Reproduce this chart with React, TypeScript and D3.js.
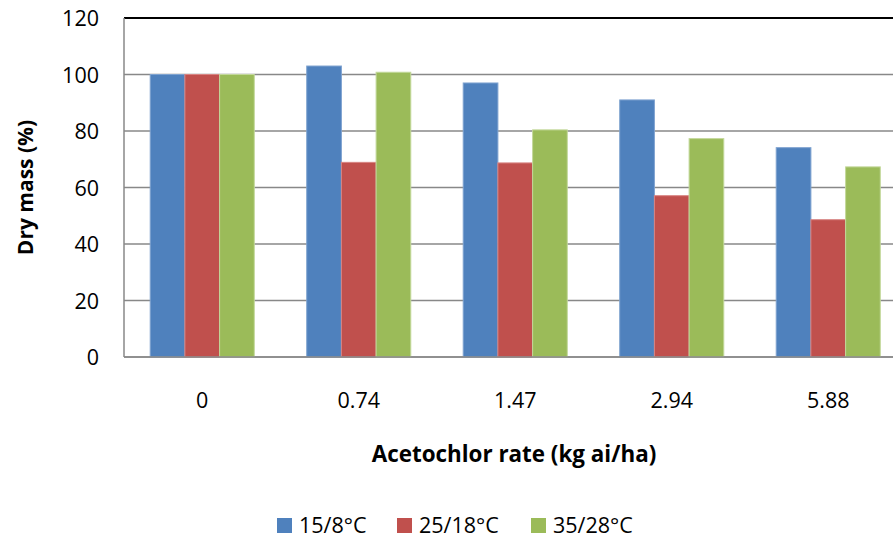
import React from "react";
import * as d3 from "d3";

const categories = ["0", "0.74", "1.47", "2.94", "5.88"];
const seriesNames = ["15/8°C", "25/18°C", "35/28°C"];
const s15 = [100, 103.0, 97.0, 91.0, 74.1];
const s25 = [100, 68.9, 68.7, 57.1, 48.6];
const s35 = [100, 100.8, 80.4, 77.3, 67.3];
const yTicks = [0, 20, 40, 60, 80, 100, 120];
const colors = ["#4F81BD", "#C0504D", "#9BBB59"];
const strokes = ["#7FA3D0", "#D88482", "#C3D89A"];

const W = 893, H = 540;
const left = 124, top = 18, bottom = 357;
const band = 156.5;
const legendX = [277, 397, 531];
const FONT = "'Open Sans', sans-serif";

export default function App() {
  const series = [s15, s25, s35];
  const x = d3.scaleBand<string>().domain(categories).range([left, left + band * categories.length]).paddingInner(0.335).paddingOuter(0.1675);
  const y = d3.scaleLinear().domain([0, 120]).range([bottom, top]);
  const inner = d3.scaleBand<number>().domain([0, 1, 2]).range([0, x.bandwidth()]);
  return (
    <svg width={W} height={H} style={{ position: "absolute", left: 0, top: 0, background: "#fff" }}>
      {yTicks.map((t) => (
        <line key={t} x1={left} x2={W} y1={y(t)} y2={y(t)}
          stroke={t === 120 ? "#000" : "#888"} strokeWidth={t === 120 ? 2 : 1.5} />
      ))}
      {categories.map((c, i) =>
        series.map((s, k) => (
          <rect key={c + k} x={(x(c) as number) + (inner(k) as number)} y={y(s[i])}
            width={inner.bandwidth()} height={y(0) - y(s[i])}
            fill={colors[k]} stroke={strokes[k]} strokeWidth={1} />
        ))
      )}
      <line x1={left} x2={left} y1={top} y2={bottom} stroke="#888" strokeWidth={1.5} />
      <line x1={left} x2={W} y1={bottom} y2={bottom} stroke="#888" strokeWidth={1.5} />
      {yTicks.map((t) => (
        <text key={t} x={99} y={y(t) + 8} textAnchor="end" fontSize={21.5} fontFamily={FONT} fill="#000">{t}</text>
      ))}
      {categories.map((c) => (
        <text key={c} x={(x(c) as number) + x.bandwidth() / 2} y={408} textAnchor="middle" fontSize={21.5} fontFamily={FONT} fill="#000">{c}</text>
      ))}
      <text transform={`translate(33,${(top + bottom) / 2}) rotate(-90)`} textAnchor="middle" fontSize={21} fontWeight="bold" fontFamily={FONT}>Dry mass (%)</text>
      <text x={514} y={462} textAnchor="middle" fontSize={22.4} fontWeight="bold" fontFamily={FONT}>Acetochlor rate (kg ai/ha)</text>
      {seriesNames.map((n, k) => (
        <g key={n} transform={`translate(${legendX[k]},0)`}>
          <rect x={0} y={518} width={15} height={15} fill={colors[k]} />
          <text x={22} y={533} fontSize={21.5} fontFamily={FONT}>{n}</text>
        </g>
      ))}
    </svg>
  );
}
